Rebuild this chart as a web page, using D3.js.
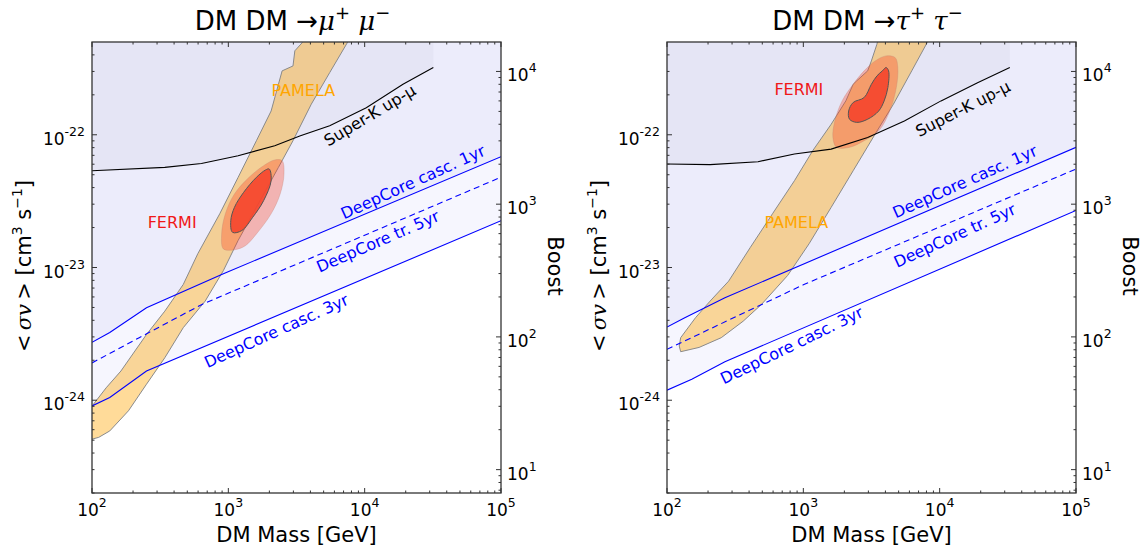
<!DOCTYPE html>
<html>
<head>
<meta charset="utf-8">
<script src="https://cdnjs.cloudflare.com/ajax/libs/d3/7.8.5/d3.min.js"></script>
<style>
  body { margin: 0; background: #fff; }
  text { font-family: "DejaVu Sans", sans-serif; }
</style>
</head>
<body>
<svg id="chart" width="1148" height="548"></svg>
<script>
// axes
const massTicks = [1e2, 1e3, 1e4, 1e5];
const sigmaTicks = [1e-24, 1e-23, 1e-22];
const boostTicks = [1e1, 1e2, 1e3, 1e4];
const boostUnit = 3e-26;   // <sigma v> for boost = 1

// DM DM -> mu+ mu-   ([mass GeV, <sigma v> cm^3/s])
const muSuperK = [[100, 5.36e-23], [342, 5.68e-23], [635, 6.08e-23], [1180, 6.95e-23], [2190, 8.26e-23],
  [3380, 9.82e-23], [5540, 1.17e-22], [10280, 1.60e-22], [19100, 2.40e-22], [31900, 3.21e-22]];
const muCasc1yr = [[100, 2.73e-24], [135, 3.24e-24], [251, 4.98e-24], [920, 8.97e-24], [1e5, 6.84e-23]];
const muTr5yr = [[100, 1.91e-24], [222, 2.96e-24], [635, 5.25e-24], [1e5, 4.79e-23]];
const muCasc3yr = [[100, 9.06e-25], [135, 1.05e-24], [251, 1.66e-24], [1e5, 2.25e-23]];
const muPamela = [[90, 7.85e-25], [127, 1.24e-24], [163, 1.66e-24], [251, 3.13e-24], [342, 4.69e-24],
  [467, 7.45e-24], [597, 1.27e-23], [865, 2.54e-23], [1180, 4.78e-23], [1607, 9.02e-23], [2060, 1.51e-22],
  [2480, 3.03e-22], [2980, 3.30e-22], [3075, 4.29e-22], [3480, 4.94e-22], [3700, 5.62e-22],
  [8040, 5.62e-22], [7460, 4.94e-22], [5540, 2.94e-22], [4060, 1.70e-22], [2980, 9.02e-23], [2330, 5.68e-23],
  [1607, 2.84e-23], [1180, 1.60e-23], [920, 9.48e-24], [676, 5.58e-24], [467, 3.52e-24], [342, 2.09e-24],
  [251, 1.32e-24], [185, 8.32e-25], [135, 5.87e-25], [112, 5.25e-25], [100, 5.09e-25], [90, 5.09e-25]];
const muFermiOuter = [[2480, 6.38e-23], [2560, 5.07e-23], [2400, 3.58e-23], [2060, 2.54e-23], [1607, 1.79e-23],
  [1334, 1.46e-23], [1109, 1.36e-23], [920, 1.38e-23], [893, 1.79e-23], [951, 2.54e-23], [1109, 3.58e-23],
  [1419, 4.78e-23], [1815, 5.85e-23], [2188, 6.46e-23]];
const muFermiInner = [[1995, 5.52e-23], [2060, 4.51e-23], [1815, 3.19e-23], [1510, 2.39e-23], [1256, 1.90e-23],
  [1074, 1.84e-23], [1042, 2.25e-23], [1109, 2.84e-23], [1294, 3.68e-23], [1607, 4.78e-23], [1875, 5.43e-23]];

// DM DM -> tau+ tau-
const tauSuperK = [[100, 6.03e-23], [207, 5.96e-23], [465, 6.27e-23], [861, 7.16e-23], [1600, 7.80e-23],
  [2965, 9.55e-23], [5510, 1.27e-22], [10230, 1.80e-22], [18970, 2.47e-22], [32700, 3.21e-22]];
const tauCasc1yr = [[100, 3.56e-24], [135, 4.19e-24], [266, 5.92e-24], [1e5, 8.04e-23]];
const tauTr5yr = [[100, 2.42e-24], [1000, 7.41e-24], [1e5, 5.52e-23]];
const tauCasc3yr = [[100, 1.19e-24], [152, 1.44e-24], [266, 1.95e-24], [1e5, 2.69e-23]];
const tauPamela = [[123, 2.56e-24], [126, 2.96e-24], [162, 4.19e-24], [207, 5.58e-24], [283, 7.89e-24],
  [409, 1.42e-23], [594, 2.54e-23], [861, 4.51e-23], [1172, 7.59e-23], [1600, 1.20e-22], [2050, 1.80e-22],
  [2320, 2.40e-22], [2465, 2.55e-22], [2965, 3.03e-22], [3155, 3.60e-22], [3465, 4.81e-22], [3600, 5.62e-22],
  [8670, 5.62e-22], [8090, 4.94e-22], [6240, 3.03e-22], [4580, 1.70e-22], [3360, 1.01e-22], [2320, 5.36e-23],
  [1600, 2.84e-23], [1102, 1.51e-23], [767, 8.71e-24], [493, 5.27e-24], [362, 3.94e-24], [250, 2.96e-24],
  [172, 2.50e-24], [126, 2.32e-24]];
const tauFermiOuter = [[4045, 3.93e-22], [4720, 3.81e-22], [4930, 3.21e-22], [4810, 2.27e-22], [4300, 1.51e-22],
  [3575, 1.07e-22], [2795, 9.02e-23], [2180, 8.04e-23], [1754, 8.04e-23], [1648, 9.55e-23], [1702, 1.27e-22],
  [1925, 1.80e-22], [2317, 2.40e-22], [2790, 3.03e-22], [3365, 3.60e-22]];
const tauFermiInner = [[4045, 3.21e-22], [4220, 3.03e-22], [4170, 2.27e-22], [3915, 1.80e-22], [3570, 1.51e-22],
  [2965, 1.31e-22], [2465, 1.24e-22], [2180, 1.31e-22], [2150, 1.51e-22], [2320, 1.75e-22], [2795, 1.91e-22],
  [3155, 2.40e-22], [3470, 2.78e-22], [3800, 3.03e-22]];

const panels = [
  { left: 92, right: 501, product: "μ",
    superK: muSuperK, casc1: muCasc1yr, tr5: muTr5yr, casc3: muCasc3yr,
    pamela: muPamela, fermiOuter: muFermiOuter, fermiInner: muFermiInner,
    labels: [
      { t: "PAMELA", at: [3550, 2.17e-22], c: "#ffa500", a: 0 },
      { t: "FERMI", at: [387, 2.19e-23], c: "#f01818", a: 0 },
      { t: "Super-K up-μ", at: [10900, 1.40e-22], c: "#000", a: -31 },
      { t: "DeepCore casc. 1yr", at: [22600, 4.40e-23], c: "#0000ff", a: -24.5 },
      { t: "DeepCore tr. 5yr", at: [12500, 1.57e-23], c: "#0000ff", a: -23.5 },
      { t: "DeepCore casc. 3yr", at: [2250, 3.32e-24], c: "#0000ff", a: -24.4 }] },
  { left: 667, right: 1076, product: "τ",
    superK: tauSuperK, casc1: tauCasc1yr, tr5: tauTr5yr, casc3: tauCasc3yr,
    pamela: tauPamela, fermiOuter: tauFermiOuter, fermiInner: tauFermiInner,
    labels: [
      { t: "FERMI", at: [927, 2.21e-22], c: "#f01818", a: 0 },
      { t: "PAMELA", at: [888, 2.19e-23], c: "#ffa500", a: 0 },
      { t: "Super-K up-μ", at: [14800, 1.57e-22], c: "#000", a: -27 },
      { t: "DeepCore casc. 1yr", at: [15300, 4.44e-23], c: "#0000ff", a: -24 },
      { t: "DeepCore tr. 5yr", at: [12900, 1.74e-23], c: "#0000ff", a: -24.5 },
      { t: "DeepCore casc. 3yr", at: [822, 2.59e-24], c: "#0000ff", a: -26 }] }
];

const plotTop = 42, plotBottom = 493;
const sigmaDomain = [2e-25, 5e-22];
const svg = d3.select("#chart");

function minors(lo, hi) {
  const out = [];
  for (let e = Math.floor(Math.log10(lo)); e <= Math.ceil(Math.log10(hi)); e++) {
    for (let k = 2; k <= 9; k++) {
      const v = k * Math.pow(10, e);
      if (v >= lo && v <= hi) out.push(v);
    }
  }
  return out;
}

// "10" + superscript exponent
function powLabel(sel, v, ascii) {
  const e = Math.round(Math.log10(v));
  sel.append("tspan").text("10");
  sel.append("tspan").attr("dy", -9).attr("font-size", 12.5)
    .text(e < 0 ? (ascii ? "-" : "−") + (-e) : e);
}

panels.forEach((p, i) => {
  const x = d3.scaleLog().domain([1e2, 1e5]).range([p.left, p.right]);
  const y = d3.scaleLog().domain(sigmaDomain).range([plotBottom, plotTop]);
  const yb = d3.scaleLog().domain(sigmaDomain.map(s => s / boostUnit)).range([plotBottom, plotTop]);
  const g = svg.append("g");

  const clipId = "clip" + i;
  svg.append("clipPath").attr("id", clipId).append("rect")
    .attr("x", p.left).attr("y", plotTop).attr("width", p.right - p.left).attr("height", plotBottom - plotTop);
  const plot = g.append("g").attr("clip-path", `url(#${clipId})`);

  const line = d3.line().x(d => x(d[0])).y(d => y(d[1]));
  const area = d3.area().x(d => x(d[0])).y0(plotTop).y1(d => y(d[1]));

  // excluded regions
  plot.append("path").attr("d", area(p.casc3)).attr("fill", "#f6f6fe");
  plot.append("path").attr("d", area(p.casc1)).attr("fill", "#ececfb");
  plot.append("path").attr("d", area(p.superK)).attr("fill", "#e5e5f5");

  // PAMELA and FERMI regions
  plot.append("path").attr("d", d3.line().x(d => x(d[0])).y(d => y(d[1])).curve(d3.curveLinearClosed)(p.pamela))
    .attr("fill", "orange").attr("fill-opacity", 0.4)
    .attr("stroke", "#8a8a8a").attr("stroke-width", 1);
  const smooth = d3.line().x(d => x(d[0])).y(d => y(d[1])).curve(d3.curveCatmullRomClosed);
  plot.append("path").attr("d", smooth(p.fermiOuter))
    .attr("fill", "#ff3a1a").attr("fill-opacity", 0.32)
    .attr("stroke", "#c08070").attr("stroke-opacity", 0.4).attr("stroke-width", 0.8);
  plot.append("path").attr("d", smooth(p.fermiInner))
    .attr("fill", "#f5452c").attr("fill-opacity", 0.9)
    .attr("stroke", "#555").attr("stroke-width", 1);

  // limit lines
  plot.append("path").attr("d", line(p.superK)).attr("fill", "none").attr("stroke", "#000").attr("stroke-width", 1.1);
  plot.append("path").attr("d", line(p.casc1)).attr("fill", "none").attr("stroke", "#0000ff").attr("stroke-width", 1.1);
  plot.append("path").attr("d", line(p.tr5)).attr("fill", "none").attr("stroke", "#0000ff")
    .attr("stroke-width", 1.1).attr("stroke-dasharray", "6,4");
  plot.append("path").attr("d", line(p.casc3)).attr("fill", "none").attr("stroke", "#0000ff").attr("stroke-width", 1.1);

  // in-plot labels
  p.labels.forEach(l => {
    g.append("text")
      .attr("transform", `translate(${x(l.at[0])},${y(l.at[1])}) rotate(${l.a})`)
      .attr("text-anchor", "middle").attr("dominant-baseline", "central")
      .attr("font-size", 16).attr("fill", l.c).text(l.t);
  });

  // frame
  g.append("rect").attr("x", p.left).attr("y", plotTop).attr("width", p.right - p.left).attr("height", plotBottom - plotTop)
    .attr("fill", "none").attr("stroke", "#333").attr("stroke-width", 1.3);

  // ticks (inward)
  const tk = g.append("g").attr("stroke", "#333").attr("stroke-width", 1);
  massTicks.concat(minors(1e2, 1e5)).forEach(v => {
    const len = massTicks.includes(v) ? 5 : 2.5;
    tk.append("line").attr("x1", x(v)).attr("x2", x(v)).attr("y1", plotBottom).attr("y2", plotBottom - len);
    tk.append("line").attr("x1", x(v)).attr("x2", x(v)).attr("y1", plotTop).attr("y2", plotTop + len);
  });
  sigmaTicks.concat(minors(sigmaDomain[0], sigmaDomain[1])).forEach(v => {
    const len = sigmaTicks.includes(v) ? 5 : 2.5;
    tk.append("line").attr("x1", p.left).attr("x2", p.left + len).attr("y1", y(v)).attr("y2", y(v));
  });
  const bd = yb.domain();
  boostTicks.concat(minors(bd[0], bd[1])).forEach(v => {
    const len = boostTicks.includes(v) ? 5 : 2.5;
    tk.append("line").attr("x1", p.right).attr("x2", p.right - len).attr("y1", yb(v)).attr("y2", yb(v));
  });

  // tick labels
  massTicks.forEach(v => {
    const t = g.append("text").attr("x", x(v)).attr("y", 516).attr("text-anchor", "middle").attr("font-size", 17);
    powLabel(t, v);
  });
  sigmaTicks.forEach(v => {
    const t = g.append("text").attr("x", p.left - 7).attr("y", y(v) + 10).attr("text-anchor", "end").attr("font-size", 17);
    powLabel(t, v, true);
  });
  boostTicks.forEach(v => {
    const t = g.append("text").attr("x", p.right + 6).attr("y", yb(v) + 10).attr("font-size", 17);
    powLabel(t, v);
  });

  // axis titles
  const cx = (p.left + p.right) / 2;
  g.append("text").attr("x", cx).attr("y", 542).attr("text-anchor", "middle").attr("font-size", 21)
    .text("DM Mass [GeV]");

  const yl = g.append("text").attr("transform", `translate(${p.left - 61},266) rotate(-90)`)
    .attr("text-anchor", "middle").attr("font-size", 21);
  yl.append("tspan").text("<\u2009");
  yl.append("tspan").attr("font-family", "DejaVu Serif").attr("font-style", "italic").text("σv");
  yl.append("tspan").text("\u2009> [cm");
  yl.append("tspan").attr("dy", -9).attr("font-size", 14).text("3");
  yl.append("tspan").attr("dy", 9).text(" s");
  yl.append("tspan").attr("dy", -9).attr("font-size", 14).text("−1");
  yl.append("tspan").attr("dy", 9).text("]");

  g.append("text").attr("transform", `translate(${p.right + 47},266) rotate(90)`)
    .attr("text-anchor", "middle").attr("font-size", 21).text("Boost");

  // panel title
  const tt = g.append("text").attr("x", cx - 4).attr("y", 30).attr("text-anchor", "middle").attr("font-size", 26);
  tt.append("tspan").text("DM DM ");
  tt.append("tspan").text("→");
  tt.append("tspan").attr("font-family", "DejaVu Serif").attr("font-style", "italic").text(p.product);
  tt.append("tspan").attr("dy", -11).attr("font-size", 18).text("+");
  tt.append("tspan").attr("dy", 11).text(" ");
  tt.append("tspan").attr("font-family", "DejaVu Serif").attr("font-style", "italic").text(p.product);
  tt.append("tspan").attr("dy", -11).attr("font-size", 18).text("−");
});
</script>
</body>
</html>
